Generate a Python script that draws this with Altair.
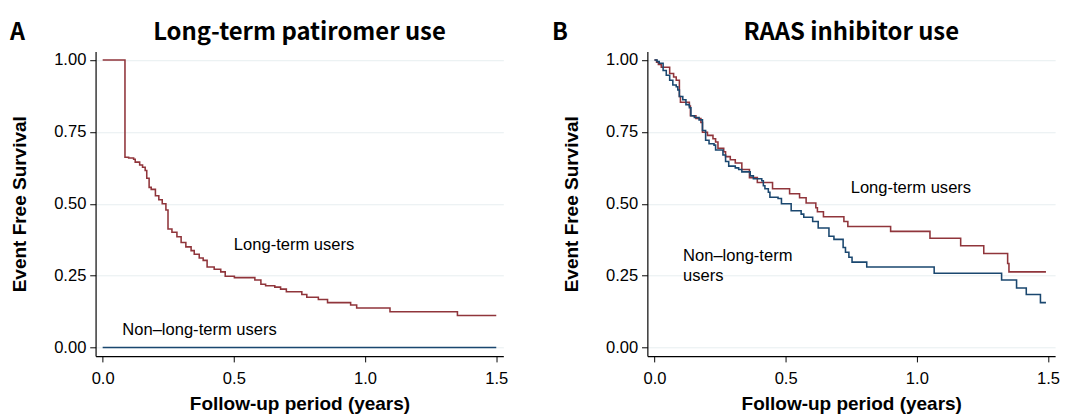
import altair as alt
import pandas as pd

# ---------------- Panel A: Long-term patiromer use ----------------
a_long_t = [0.0, 0.085, 0.099, 0.118, 0.124, 0.141, 0.152, 0.162, 0.168, 0.177, 0.185,
            0.201, 0.214, 0.227, 0.241, 0.249, 0.264, 0.283, 0.299, 0.317, 0.337, 0.349,
            0.368, 0.383, 0.398, 0.425, 0.45, 0.467, 0.502, 0.58, 0.603, 0.621, 0.656,
            0.678, 0.70, 0.759, 0.778, 0.822, 0.857, 0.945, 0.968, 1.095, 1.352, 1.5]
a_long_s = [1.0, 0.662, 0.659, 0.655, 0.645, 0.635, 0.627, 0.616, 0.589, 0.557, 0.55,
            0.528, 0.514, 0.5, 0.478, 0.412, 0.401, 0.385, 0.365, 0.35, 0.337, 0.324,
            0.311, 0.303, 0.28, 0.272, 0.263, 0.248, 0.243, 0.235, 0.22, 0.215, 0.21,
            0.203, 0.194, 0.184, 0.175, 0.167, 0.156, 0.148, 0.137, 0.124, 0.111, 0.111]
a_non_t = [0.0, 1.5]
a_non_s = [0.0, 0.0]

# ---------------- Panel B: RAAS inhibitor use ----------------
b_long_t = [0.0, 0.008, 0.015, 0.026, 0.058, 0.073, 0.083, 0.095, 0.099, 0.133, 0.137,
            0.158, 0.177, 0.183, 0.202, 0.223, 0.233, 0.242, 0.264, 0.271, 0.289, 0.308,
            0.333, 0.362, 0.392, 0.45, 0.515, 0.553, 0.578, 0.615, 0.621, 0.644, 0.722,
            0.737, 0.9, 1.05, 1.167, 1.255, 1.346, 1.351, 1.492]
b_long_s = [1.0, 0.993, 0.985, 0.975, 0.953, 0.941, 0.93, 0.873, 0.853, 0.84, 0.806,
            0.797, 0.783, 0.749, 0.738, 0.726, 0.715, 0.693, 0.681, 0.664, 0.653, 0.642,
            0.619, 0.591, 0.574, 0.552, 0.535, 0.521, 0.503, 0.486, 0.472, 0.455, 0.438,
            0.421, 0.404, 0.38, 0.354, 0.327, 0.292, 0.263, 0.263]
b_non_t = [0.0, 0.01, 0.018, 0.033, 0.045, 0.058, 0.07, 0.083, 0.089, 0.095, 0.108,
           0.12, 0.133, 0.139, 0.152, 0.17, 0.183, 0.195, 0.208, 0.227, 0.233, 0.261,
           0.271, 0.283, 0.308, 0.321, 0.333, 0.365, 0.377, 0.409, 0.415, 0.421, 0.434,
           0.44, 0.471, 0.484, 0.521, 0.559, 0.569, 0.603, 0.624, 0.665, 0.684, 0.719,
           0.728, 0.741, 0.753, 0.809, 1.066, 1.323, 1.38, 1.417, 1.471, 1.492]
b_non_s = [1.0, 0.995, 0.989, 0.964, 0.947, 0.93, 0.913, 0.907, 0.896, 0.873, 0.862,
           0.845, 0.834, 0.806, 0.8, 0.792, 0.755, 0.721, 0.709, 0.704, 0.687, 0.67,
           0.647, 0.631, 0.625, 0.619, 0.611, 0.597, 0.587, 0.58, 0.563, 0.552, 0.54,
           0.523, 0.518, 0.5, 0.476, 0.464, 0.453, 0.438, 0.416, 0.387, 0.376, 0.348,
           0.331, 0.314, 0.297, 0.28, 0.258, 0.235, 0.207, 0.184, 0.156, 0.156]

# annotation labels
a_note_text = ["Long-term users", "Non\u2013long-term users"]
a_note_t = [0.5, 0.075]
a_note_s = [0.356, 0.061]
b_note_text = ["Long-term users", "Non\u2013long-term", "users"]
b_note_t = [0.748, 0.109, 0.109]
b_note_s = [0.556, 0.319, 0.247]

series_names = ["Long-term users", "Non\u2013long-term users"]
series_colors = ["#90353b", "#1a476f"]
x_ticks = [0.0, 0.5, 1.0, 1.5]
y_ticks = [0.0, 0.25, 0.5, 0.75, 1.0]

LABEL_FONT = "Liberation Sans"
TITLE_FONT = "Noto Sans CJK JP"
W, H = 419, 313


def curve(t, s, name):
    return pd.DataFrame({"t": t, "s": s, "group": name})


def panel(curves, notes, letter, letter_x, title):
    df = pd.concat(curves, ignore_index=True)
    x = alt.X("t:Q",
              scale=alt.Scale(domain=[-0.027, 1.527], nice=False, zero=False),
              axis=alt.Axis(values=x_ticks, format=".1f",
                            title="Follow-up period (years)", grid=False,
                            labelPadding=9, titlePadding=9))
    y = alt.Y("s:Q",
              scale=alt.Scale(domain=[-0.03, 1.03], nice=False, zero=False),
              axis=alt.Axis(values=y_ticks, format=".2f",
                            title="Event Free Survival", grid=True,
                            gridColor="#e6eef0", gridWidth=1,
                            labelPadding=4, titlePadding=25))
    lines = alt.Chart(df).mark_line(interpolate="step-after", strokeWidth=1.6).encode(
        x=x, y=y,
        color=alt.Color("group:N", scale=alt.Scale(domain=series_names, range=series_colors),
                        legend=None),
    )
    ndf = pd.DataFrame({"t": notes[0], "s": notes[1], "label": notes[2]})
    texts = alt.Chart(ndf).mark_text(align="left", baseline="middle", fontSize=17,
                                     font=LABEL_FONT, color="#000").encode(
        x="t:Q", y="s:Q", text="label:N")
    let = alt.Chart(pd.DataFrame({"letter": [letter]})).mark_text(
        align="left", baseline="middle", fontSize=24, fontWeight="bold",
        font=TITLE_FONT, color="#000").encode(
        x=alt.value(letter_x), y=alt.value(-19), text="letter:N")
    ttl = alt.Chart(pd.DataFrame({"title": [title]})).mark_text(
        align="center", baseline="middle", fontSize=24.5, fontWeight="bold",
        font=TITLE_FONT, color="#000").encode(
        x=alt.value(W / 2), y=alt.value(-19), text="title:N")
    return alt.layer(lines, texts, let, ttl).properties(width=W, height=H)


pa = panel([curve(a_long_t, a_long_s, series_names[0]),
            curve(a_non_t, a_non_s, series_names[1])],
           (a_note_t, a_note_s, a_note_text), "A", -88, "Long-term patiromer use")
pb = panel([curve(b_long_t, b_long_s, series_names[0]),
            curve(b_non_t, b_non_s, series_names[1])],
           (b_note_t, b_note_s, b_note_text), "B", -98, "RAAS inhibitor use")

chart = alt.hconcat(pa, pb, spacing=45).properties(
    padding={"left": 1, "top": 7, "right": 0, "bottom": 0}
).configure_view(stroke=None).configure_axis(
    domainColor="#000", domainWidth=1.2, tickColor="#000", tickSize=6, tickWidth=1,
    labelFont=LABEL_FONT, labelFontSize=17, labelColor="#000",
    titleFont=LABEL_FONT, titleFontSize=19.5, titleFontWeight="bold", titleColor="#000",
)

chart.save("out.html", embed_options={"renderer": "svg", "actions": False})
